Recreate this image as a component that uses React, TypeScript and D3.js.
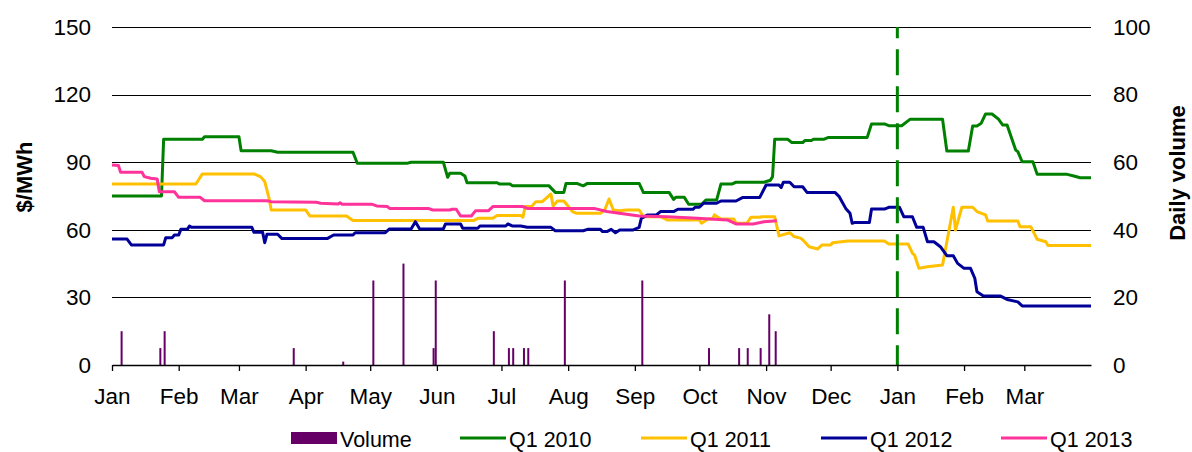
import * as d3 from "d3";
import { useRef, useEffect } from "react";

// month labels on the date axis
const monthLabels = ["Jan", "Feb", "Mar", "Apr", "May", "Jun", "Jul", "Aug", "Sep", "Oct", "Nov", "Dec"];

// [day since 1 Jan of the trading year, $/MWh]
const q1_2010: [number, number][] = [
  [0, 75.0], [23, 75.0], [24, 100.2], [42, 100.2], [43, 101.3], [59, 101.3], [60, 95.1], [74, 95.1],
  [77, 94.4], [112, 94.4], [114, 89.5], [137, 89.5], [139, 90.0], [154, 90.0], [156, 83.3], [157, 85.1],
  [162, 85.1], [164, 83.9], [165, 80.9], [179, 80.9], [180, 80.3], [185, 80.3], [186, 79.6], [203, 79.6],
  [206, 76.6], [210, 76.6], [211, 80.6], [216, 80.6], [219, 79.5], [221, 80.6], [245, 80.6], [247, 76.5],
  [259, 76.5], [261, 73.5], [262, 74.4], [266, 74.4], [268, 71.3], [274, 71.3], [276, 73.2], [281, 73.2],
  [283, 80.3], [288, 80.3], [290, 81.1], [303, 81.1], [306, 82.0], [307, 83.6], [308, 100.2], [314, 100.2],
  [316, 98.7], [321, 98.7], [322, 99.6], [325, 99.6], [326, 100.2], [331, 100.2], [333, 101.0], [351, 101.0],
  [353, 107.0], [359, 107.0], [361, 106.2], [367, 106.2], [371, 109.1], [386, 109.1], [388, 95.0], [398, 95.0],
  [400, 106.1], [402, 106.1], [404, 107.3], [406, 111.4], [409, 111.4], [412, 109.1], [414, 106.5], [416, 106.5],
  [420, 95.4], [421, 94.7], [423, 90.2], [428, 90.2], [430, 84.6], [444, 84.6], [447, 83.9], [450, 83.1],
  [455, 83.1],
];

const q1_2011: [number, number][] = [
  [0, 80.3], [39, 80.3], [42, 84.8], [66, 84.8], [69, 83.6], [71, 81.4], [73, 74.0], [74, 68.8],
  [90, 68.8], [92, 66.1], [109, 66.1], [112, 64.1], [168, 64.1], [170, 65.1], [177, 65.1], [179, 66.3],
  [190, 66.3], [191, 65.6], [192, 70.3], [195, 70.3], [197, 72.5], [200, 72.5], [204, 75.9], [205, 70.6],
  [207, 72.8], [210, 72.8], [214, 68.1], [216, 67.3], [227, 67.3], [229, 68.8], [231, 73.7], [233, 68.8],
  [236, 68.5], [239, 68.8], [245, 68.8], [247, 65.8], [255, 65.8], [258, 64.4], [273, 64.4], [274, 62.9],
  [277, 64.8], [279, 64.8], [280, 66.6], [283, 64.8], [289, 64.8], [290, 62.9], [295, 62.9], [297, 65.6],
  [301, 65.6], [302, 65.8], [308, 65.8], [310, 57.3], [315, 58.7], [317, 57.0], [320, 56.3], [321, 55.6],
  [324, 52.5], [328, 51.5], [330, 53.3], [334, 53.3], [335, 54.3], [342, 55.0], [359, 55.0], [361, 53.7],
  [370, 53.7], [372, 49.6], [373, 48.8], [375, 42.9], [379, 43.6], [386, 44.4], [391, 70.0], [392, 59.9],
  [395, 70.0], [400, 70.0], [402, 68.1], [406, 66.6], [407, 63.9], [421, 63.9], [422, 61.4], [427, 61.4],
  [430, 55.8], [434, 54.7], [435, 53.0], [455, 53.0],
];

const q1_2012: [number, number][] = [
  [0, 55.9], [7, 55.9], [9, 53.3], [24, 53.3], [25, 56.5], [28, 56.5], [29, 57.7], [31, 57.7],
  [32, 60.2], [35, 60.2], [36, 61.7], [37, 61.1], [65, 61.1], [66, 58.9], [70, 58.9], [71, 54.3],
  [72, 58.0], [77, 58.0], [79, 56.1], [100, 56.1], [103, 57.7], [112, 57.7], [113, 58.7], [127, 58.7],
  [129, 60.4], [139, 60.4], [141, 63.6], [143, 60.4], [154, 60.4], [155, 62.6], [162, 62.6], [163, 60.7],
  [170, 60.7], [171, 61.7], [183, 61.7], [184, 62.6], [186, 61.7], [190, 61.7], [193, 61.1], [204, 61.1],
  [206, 59.6], [219, 59.6], [221, 60.2], [227, 60.2], [228, 59.2], [230, 59.2], [232, 60.2], [234, 58.7],
  [236, 59.9], [242, 59.9], [245, 61.1], [246, 65.1], [249, 66.6], [253, 66.6], [255, 68.1], [261, 68.1],
  [263, 69.1], [270, 69.1], [271, 70.0], [273, 70.0], [275, 71.8], [281, 71.8], [283, 72.8], [290, 72.8],
  [293, 74.3], [301, 74.3], [304, 79.9], [310, 79.9], [311, 78.7], [312, 81.1], [315, 81.1], [317, 79.1],
  [321, 79.1], [323, 76.6], [336, 76.6], [338, 74.7], [341, 69.5], [343, 67.3], [344, 62.9], [345, 63.2],
  [352, 63.2], [353, 69.2], [359, 69.2], [361, 70.0], [366, 70.0], [368, 65.8], [372, 65.8], [374, 61.1],
  [377, 61.1], [379, 54.7], [382, 54.7], [385, 52.5], [388, 48.5], [391, 48.5], [393, 45.1], [396, 42.9],
  [399, 42.9], [401, 38.5], [402, 32.5], [405, 30.6], [413, 30.6], [416, 29.1], [421, 28.0], [423, 26.2],
  [455, 26.2],
];

const q1_2013: [number, number][] = [
  [0, 88.8], [3, 88.5], [4, 85.5], [14, 85.5], [15, 83.6], [18, 82.9], [21, 82.5], [22, 76.9],
  [29, 76.9], [31, 74.4], [41, 74.4], [43, 72.9], [72, 72.9], [74, 72.5], [95, 72.2], [97, 71.8],
  [105, 71.4], [106, 72.0], [107, 71.3], [121, 71.3], [123, 70.6], [128, 70.3], [129, 69.5], [147, 69.5],
  [149, 68.8], [157, 68.8], [158, 69.1], [160, 69.1], [162, 66.1], [167, 66.1], [169, 68.5], [175, 68.5],
  [177, 70.3], [191, 70.3], [193, 69.5], [224, 69.5], [230, 68.1], [245, 66.1], [258, 65.8], [272, 65.1],
  [286, 64.4], [290, 62.6], [298, 62.6], [303, 63.6], [309, 64.0],
];

// [day, daily volume]
const volume: [number, number][] = [
  [4, 10], [22, 5], [24, 10], [84, 5], [107, 1], [121, 25], [135, 30], [149, 5], [150, 25],
  [177, 10], [184, 5], [186, 5], [191, 5], [193, 5], [210, 25], [246, 25], [277, 5], [291, 5],
  [295, 5], [301, 5], [305, 15], [308, 10],
];

const priceTicks = [0, 30, 60, 90, 120, 150];
const volumeTicks = [0, 20, 40, 60, 80, 100];
const contractStartDay = 365; // Jan of delivery year

const series = [
  { name: "Q1 2010", data: q1_2010, color: "#008000" },
  { name: "Q1 2011", data: q1_2011, color: "#FFC000" },
  { name: "Q1 2012", data: q1_2012, color: "#000099" },
  { name: "Q1 2013", data: q1_2013, color: "#FF3399" },
];

export default function App() {
  const svgRef = useRef<SVGSVGElement | null>(null);

  useEffect(() => {
    const font = "'Liberation Sans', Arial, sans-serif";
    const left = 112, right = 1091, top = 27, bottom = 365;

    const svg = d3.select(svgRef.current);
    svg.selectAll("*").remove();

    const start = new Date(2009, 0, 1);
    const end = new Date(2010, 3, 1);
    const day = (d: number) => d3.timeDay.offset(start, d);

    const x = d3.scaleTime().domain([start, end]).range([left, right]);
    const y = d3.scaleLinear().domain([0, 150]).range([bottom, top]);
    const yVol = d3.scaleLinear().domain([0, 100]).range([bottom, top]);

    // grid
    svg
      .append("g")
      .selectAll("line")
      .data(priceTicks.filter((t) => t > 0))
      .join("line")
      .attr("x1", left)
      .attr("x2", right)
      .attr("y1", (d) => Math.round(y(d)) + 0.5)
      .attr("y2", (d) => Math.round(y(d)) + 0.5)
      .attr("stroke", "#000")
      .attr("stroke-width", 1.2);

    // volume bars
    svg
      .append("g")
      .selectAll("rect")
      .data(volume)
      .join("rect")
      .attr("x", (d) => x(day(d[0])))
      .attr("y", (d) => yVol(d[1]))
      .attr("width", 2)
      .attr("height", (d) => bottom - yVol(d[1]))
      .attr("fill", "#660066");

    // price lines
    const line = d3
      .line<[number, number]>()
      .x((d) => x(day(d[0])))
      .y((d) => y(d[1]));

    svg
      .append("g")
      .selectAll("path")
      .data(series)
      .join("path")
      .attr("fill", "none")
      .attr("stroke", (d) => d.color)
      .attr("stroke-width", 3)
      .attr("stroke-linejoin", "round")
      .attr("d", (d) => line(d.data));

    // start of delivery marker
    const xc = x(day(contractStartDay));
    svg
      .append("line")
      .attr("x1", xc)
      .attr("x2", xc)
      .attr("y1", top)
      .attr("y2", bottom)
      .attr("stroke", "#008000")
      .attr("stroke-width", 3)
      .attr("stroke-dasharray", "26 11")
      .attr("stroke-dashoffset", 14.7);

    // x axis
    const months = d3.timeMonth.range(start, end);
    const xAxis = svg
      .append("g")
      .attr("transform", `translate(0,${bottom})`)
      .call(
        d3
          .axisBottom(x)
          .tickValues(months)
          .tickFormat((d) => monthLabels[(d as Date).getMonth()])
          .tickSize(6)
          .tickSizeOuter(0)
          .tickPadding(17)
      );
    xAxis.selectAll("path, line").attr("stroke", "#000").attr("stroke-width", 1.3);

    // left axis
    const yAxis = svg
      .append("g")
      .attr("transform", `translate(${left},0)`)
      .call(d3.axisLeft(y).tickValues(priceTicks).tickSize(0).tickPadding(21));
    yAxis.select(".domain").remove();

    // right axis
    const yAxisR = svg
      .append("g")
      .attr("transform", `translate(${right},0)`)
      .call(d3.axisRight(yVol).tickValues(volumeTicks).tickSize(0).tickPadding(22));
    yAxisR.select(".domain").remove();

    svg
      .selectAll("g.tick text")
      .attr("font-family", font)
      .attr("font-size", 22.5)
      .attr("fill", "#000");

    // axis titles
    svg
      .append("text")
      .attr("transform", "translate(32,177) rotate(-90)")
      .attr("text-anchor", "middle")
      .attr("font-family", font)
      .attr("font-size", 22)
      .attr("font-weight", "bold")
      .text("$/MWh");

    svg
      .append("text")
      .attr("transform", "translate(1185,173) rotate(-90)")
      .attr("text-anchor", "middle")
      .attr("font-family", font)
      .attr("font-size", 22)
      .attr("font-weight", "bold")
      .text("Daily volume");

    // legend
    const legendItems = [
      { name: "Volume", color: "#660066", bar: true },
      ...series.map((s) => ({ name: s.name, color: s.color, bar: false })),
    ];
    const legendX = [291, 460, 641, 821, 1001];
    const legend = svg
      .append("g")
      .selectAll("g")
      .data(legendItems)
      .join("g")
      .attr("transform", (_, i) => `translate(${legendX[i]},438)`);

    legend
      .filter((d) => d.bar)
      .append("rect")
      .attr("x", 0)
      .attr("y", -6)
      .attr("width", 46)
      .attr("height", 12)
      .attr("fill", (d) => d.color);

    legend
      .filter((d) => !d.bar)
      .append("line")
      .attr("x1", 0)
      .attr("x2", 46)
      .attr("stroke", (d) => d.color)
      .attr("stroke-width", 3);

    legend
      .append("text")
      .attr("x", 49)
      .attr("y", 9)
      .attr("font-family", font)
      .attr("font-size", 21.5)
      .text((d) => d.name);
  }, []);

  return (
    <svg
      ref={svgRef}
      width={1192}
      height={452}
      style={{ position: "absolute", left: 0, top: 0, background: "#fff" }}
    ></svg>
  );
}
